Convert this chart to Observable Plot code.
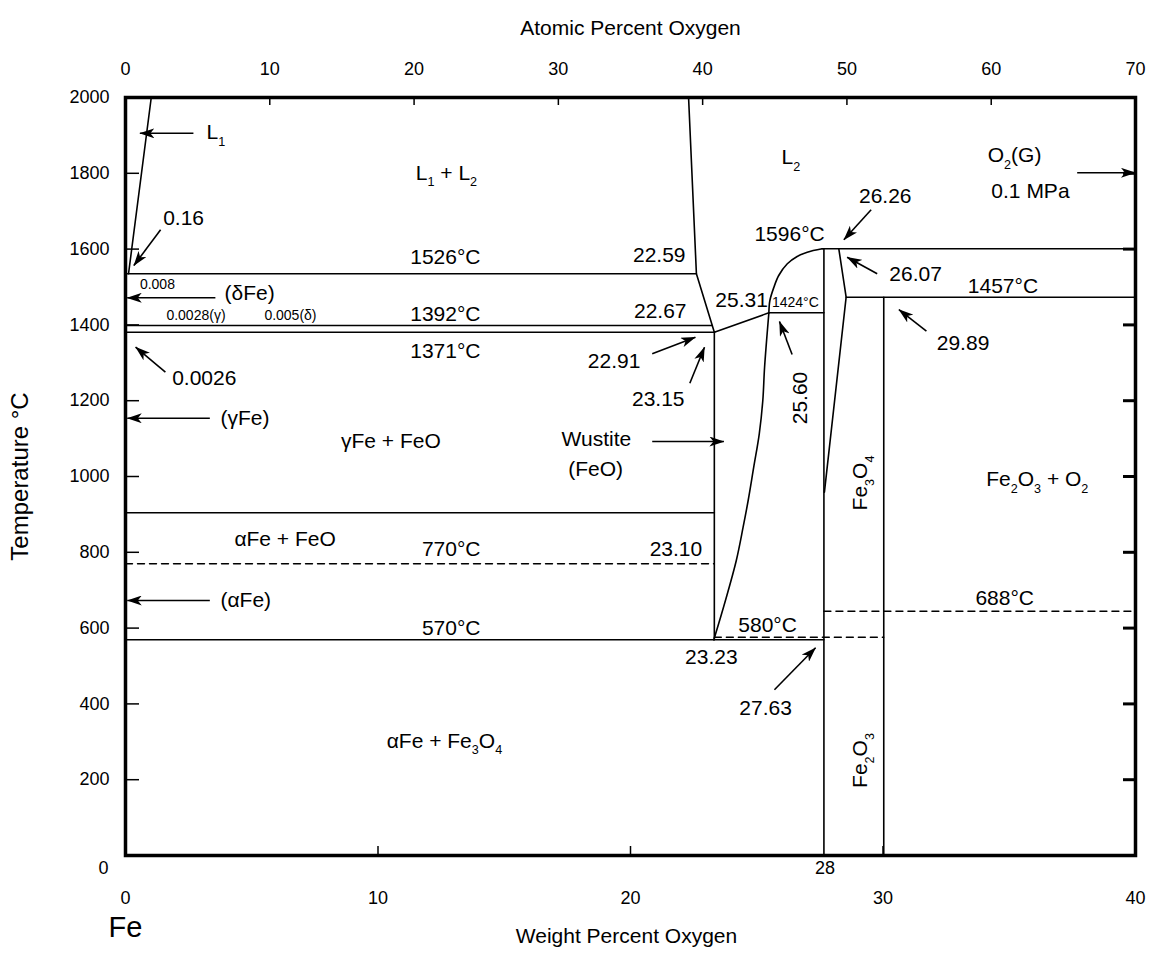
<!DOCTYPE html>
<html><head><meta charset="utf-8">
<script src="https://cdn.jsdelivr.net/npm/d3@7"></script>
<script src="https://cdn.jsdelivr.net/npm/@observablehq/plot@0.6"></script>
<style>body{margin:0;background:#fff;} #chart svg{display:block;}</style>
</head><body><div id="chart"></div>
<script>
// ---------- axes ----------
const tempTicks = [200, 400, 600, 800, 1000, 1200, 1400, 1600, 1800, 2000];
const rightTicks = [200, 400, 600, 800, 1000, 1200, 1400, 1600, 1800];
const wtTicks = [0, 10, 20, 30, 40];
const atomicTickLabels = [0, 10, 20, 30, 40, 50, 60, 70];
const atomicTickWt = [0, 5.714, 11.429, 17.143, 22.857, 28.571, 34.286, 40];

// ---------- phase boundaries: [wt% O, °C] ----------
const liquidusL1 = [[1.02, 2000], [0.12, 1535]];
const liquidusL2 = [[22.30, 2000], [22.61, 1535], [23.32, 1380.7]];
const iso1526 = [[0, 1535], [22.61, 1535]];
const iso1392 = [[0, 1398.4], [23.24, 1398.4]];
const iso1371 = [[0, 1380.7], [23.32, 1380.7]];
const wustiteLiquidus = [[23.32, 1380.7], [25.48, 1431.9]];
const iso1424 = [[25.48, 1431.9], [27.66, 1431.9]];
const iso1596 = [[27.59, 1600.8], [40, 1600.8]];
const magnetiteLeft = [[27.66, 1600.8], [27.66, 0]];
const magnetiteRight = [[28.25, 1600.8], [28.54, 1473.1], [27.68, 958.6]];
const iso1457 = [[28.54, 1473.1], [40, 1473.1]];
const hematite = [[30.03, 1473.1], [30.03, 0]];
const wustiteLeft = [[23.32, 1380.7], [23.32, 569.1]];
const iso570 = [[0, 569.1], [27.66, 569.1]];
const iso912 = [[0, 904.2], [23.32, 904.2]];
// curved boundaries
const magnetiteLiquidus = [[25.48, 1431.9], [25.52, 1464.4], [25.68, 1499.5], [25.87, 1530.3], [26.21, 1561.2], [26.60, 1580.5], [27.0, 1591.8], [27.59, 1600.8]];
const wustiteRight = [[25.48, 1431.9], [25.31, 1288.4], [25.24, 1200.5], [25.10, 1112.7], [24.88, 1024.5], [24.66, 936.7], [24.46, 866.2], [24.19, 778.4], [23.76, 672.8], [23.30, 569.1]];
// dashed isotherms
const iso770 = [[0, 769.7], [23.32, 769.7]];
const iso580 = [[23.32, 576], [30.03, 576]];
const iso688 = [[27.66, 644.6], [40, 644.6]];

// ---------- arrows: [x1, T1, x2, T2] ----------
const arrows = [
  [2.69, 1905.5, 0.57, 1905.5],
  [37.69, 1801.3, 40, 1801.3],
  [1.39, 1650.8, 0.33, 1556.6],
  [3.56, 1471.5, 0.07, 1471.5],
  [1.58, 1275.2, 0.40, 1341.2],
  [3.34, 1153.8, 0.07, 1153.8],
  [3.34, 672.8, 0.07, 672.8],
  [20.86, 1323.7, 22.57, 1367.6],
  [22.35, 1246.2, 22.93, 1341.2],
  [20.86, 1092.3, 23.70, 1092.3],
  [26.40, 1321.9, 25.90, 1409],
  [29.53, 1703.7, 28.45, 1624.5],
  [29.77, 1534.8, 28.58, 1578.6],
  [31.72, 1383.4, 30.63, 1440.6],
  [25.70, 437.2, 27.33, 548]
];

// ---------- labels: [text, wt% O, °C] ----------
const centerLabels = [
  ["L₁ + L₂", 12.71, 1800.8], ["0.16", 2.30, 1682], ["0.0026", 3.12, 1259.9],
  ["γFe + FeO", 10.51, 1092.9], ["αFe + FeO", 6.32, 833.3], ["αFe + Fe₃O₄", 12.63, 301.3],
  ["22.91", 19.35, 1304], ["23.15", 21.10, 1203.7], ["25.31", 24.40, 1465.2],
  ["1596°C", 26.30, 1640.4], ["26.26", 30.09, 1739.3], ["26.07", 31.29, 1532.5],
  ["1457°C", 34.75, 1501.8], ["29.89", 33.17, 1352.2], ["Wustite", 18.65, 1098.5],
  ["(FeO)", 18.62, 1018.5], ["580°C", 25.43, 607.4], ["23.23", 23.20, 523],
  ["27.63", 25.35, 388.4], ["Fe₂O₃ + O₂", 36.11, 991.6], ["688°C", 34.82, 679.4],
  ["O₂(G)", 35.21, 1847], ["0.1 MPa", 35.84, 1752.6]
];
const startLabels = [
  ["L₁", 3.21, 1907.6], ["L₂", 25.98, 1841.7], ["(δFe)", 3.92, 1482.8],
  ["(γFe)", 3.76, 1153], ["(αFe)", 3.76, 672.8]
];
const endLabels = [
  ["1526°C", 14.06, 1579.7], ["1392°C", 14.06, 1428], ["1371°C", 14.06, 1330.3],
  ["770°C", 14.06, 808.7], ["570°C", 14.06, 600.3],
  ["22.59", 22.18, 1584.4], ["22.67", 22.22, 1437.2], ["23.10", 22.84, 806.9]
];
const rotatedLabels = [["25.60", 26.73, 1207.1], ["Fe₃O₄", 29.11, 982.9], ["Fe₂O₃", 29.11, 250.7]];
const smallStartLabels = [["0.008", 0.57, 1507], ["0.0028(γ)", 1.62, 1424.8], ["0.005(δ)", 5.50, 1424.8]];
const smallCenterLabels = [["1424°C", 26.53, 1458.6]];
const belowAxisLabels = [["28", 27.7, -34.3]];
const leftZeroLabel = [["0", 0, -34.3]];
const elementLabel = [["Fe", 0, -190]];

// ---------- build tables ----------
const toRows = (lines) => lines.flatMap((pts, id) => pts.map(([x, y]) => ({id, x, y})));
const solidRows = toRows([liquidusL1, liquidusL2, iso1526, iso1392, iso1371, wustiteLiquidus, iso1424, iso1596,
  magnetiteLeft, magnetiteRight, iso1457, hematite, wustiteLeft, iso570, iso912]);
const curveRows = toRows([magnetiteLiquidus, wustiteRight]);
const dashedRows = toRows([iso770, iso580, iso688]);

const T = (d) => d[0], X = (d) => d[1], Y = (d) => d[2];
const FONT = "'Liberation Sans', Arial, Helvetica, sans-serif";

const chart = Plot.plot({
  width: 1152, height: 956,
  marginLeft: 125, marginRight: 17, marginTop: 97, marginBottom: 101,
  x: {domain: [0, 40]},
  y: {domain: [0, 2000]},
  style: {fontFamily: FONT, color: "black", background: "white", overflow: "visible"},
  marks: [
    Plot.line(solidRows, {x: "x", y: "y", z: "id", stroke: "black", strokeWidth: 1.6}),
    Plot.line(curveRows, {x: "x", y: "y", z: "id", stroke: "black", strokeWidth: 1.6, curve: "catmull-rom"}),
    Plot.line(dashedRows, {x: "x", y: "y", z: "id", stroke: "black", strokeWidth: 1.4, strokeDasharray: "7,5"}),
    Plot.link(arrows, {x1: d => d[0], y1: d => d[1], x2: d => d[2], y2: d => d[3], stroke: "black", strokeWidth: 1.6}),
    Plot.text(centerLabels, {x: X, y: Y, text: T, fontSize: 21}),
    Plot.text(startLabels, {x: X, y: Y, text: T, fontSize: 21, textAnchor: "start"}),
    Plot.text(endLabels, {x: X, y: Y, text: T, fontSize: 21, textAnchor: "end"}),
    Plot.text(rotatedLabels, {x: X, y: Y, text: T, fontSize: 21, rotate: -90}),
    Plot.text(smallStartLabels, {x: X, y: Y, text: T, fontSize: 14, textAnchor: "start"}),
    Plot.text(smallCenterLabels, {x: X, y: Y, text: T, fontSize: 14}),
    Plot.text(belowAxisLabels, {x: X, y: Y, text: T, fontSize: 18}),
    Plot.text(leftZeroLabel, {x: X, y: Y, text: T, fontSize: 18, textAnchor: "end", dx: -17}),
    Plot.text(elementLabel, {x: X, y: Y, text: T, fontSize: 29}),
    Plot.axisY(tempTicks, {anchor: "left", tickSize: -14, tickPadding: 30, strokeWidth: 1.5, fontSize: 18, tickFormat: d => String(d), label: null}),
    Plot.axisY(rightTicks, {anchor: "right", tickSize: -13, tickPadding: 0, strokeWidth: 3, tickFormat: () => "", label: null}),
    Plot.axisX(wtTicks, {anchor: "bottom", tickSize: -9, tickPadding: 45, strokeWidth: 1.5, fontSize: 18, tickFormat: d => String(d), label: null}),
    Plot.axisX(atomicTickWt, {anchor: "top", tickSize: -7, tickPadding: 30, strokeWidth: 1.5, fontSize: 18,
      tickFormat: d => String(atomicTickLabels[atomicTickWt.indexOf(d)]), label: null}),
    Plot.text(["Atomic Percent Oxygen"], {frameAnchor: "top", dy: -77, fontSize: 21}),
    Plot.text(["Weight Percent Oxygen"], {frameAnchor: "bottom", dy: 87, dx: -4, fontSize: 21}),
    Plot.text(["Temperature °C"], {frameAnchor: "left", textAnchor: "middle", dx: -105, rotate: -90, fontSize: 24}),
    Plot.frame({stroke: "black", strokeWidth: 3.5})
  ]
});

// ---------- arrowheads & subscripts ----------
const NS = "http://www.w3.org/2000/svg";
const defs = document.createElementNS(NS, "defs");
defs.innerHTML = '<marker id="ahead" viewBox="0 0 15 10" refX="14.5" refY="5" markerWidth="15" markerHeight="10" markerUnits="userSpaceOnUse" orient="auto"><path d="M0,0L15,5L0,10L4,5Z" fill="black"/></marker>';
chart.insertBefore(defs, chart.firstChild);
chart.querySelectorAll('g[aria-label="link"] path').forEach(p => p.setAttribute("marker-end", "url(#ahead)"));

const subMap = {"₀": "0", "₁": "1", "₂": "2", "₃": "3", "₄": "4", "₅": "5", "₆": "6", "₇": "7", "₈": "8", "₉": "9"};
chart.querySelectorAll("text").forEach(t => {
  if (t.children.length) return;
  const s = t.textContent;
  if (![...s].some(ch => ch in subMap)) return;
  const g = t.closest("[font-size]");
  const fs = parseFloat(t.getAttribute("font-size") || (g && g.getAttribute("font-size")) || 21);
  const shift = 0.3 * fs, subSize = 0.6 * fs;
  const runs = [];
  for (const ch of s) {
    const sub = ch in subMap;
    const c = sub ? subMap[ch] : ch;
    if (runs.length && runs[runs.length - 1].sub === sub) runs[runs.length - 1].str += c;
    else runs.push({sub, str: c});
  }
  t.textContent = "";
  let lowered = false;
  for (const r of runs) {
    const ts = document.createElementNS(NS, "tspan");
    ts.textContent = r.str;
    if (r.sub) {
      ts.setAttribute("font-size", subSize);
      if (!lowered) { ts.setAttribute("dy", shift); lowered = true; }
    } else if (lowered) { ts.setAttribute("dy", -shift); lowered = false; }
    t.appendChild(ts);
  }
});

document.getElementById("chart").appendChild(chart);
</script>
</body></html>
